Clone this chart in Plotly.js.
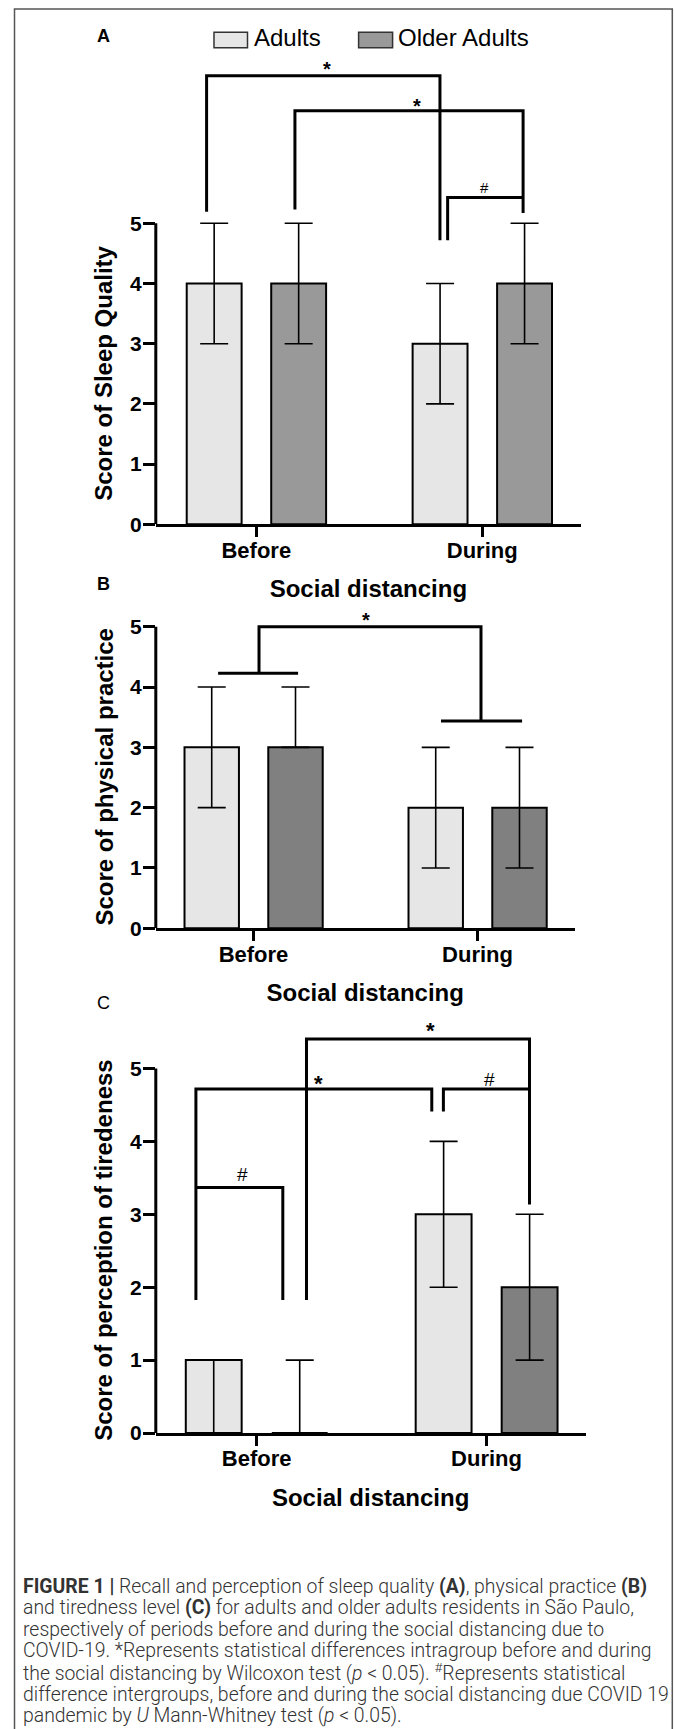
<!DOCTYPE html>
<html><head><meta charset="utf-8">
<script src="https://cdn.plot.ly/plotly-3.0.1.min.js"></script>
<style>html,body{margin:0;padding:0;background:#fff}</style>
</head><body><div id="chart" style="width:674px;height:1729px"></div>
<script>
// ---------------- data ----------------
var categories = ['Before', 'During'];
var seriesNames = ['Adults', 'Older Adults'];

// Panel A: Score of Sleep Quality
var sleepAdults = [4, 3];
var sleepAdultsErrPlus = [1, 1];
var sleepAdultsErrMinus = [1, 1];
var sleepOlder = [4, 4];
var sleepOlderErrPlus = [1, 1];
var sleepOlderErrMinus = [1, 1];

// Panel B: Score of physical practice
var physAdults = [3, 2];
var physAdultsErrPlus = [1, 1];
var physAdultsErrMinus = [1, 1];
var physOlder = [3, 2];
var physOlderErrPlus = [1, 1];
var physOlderErrMinus = [0, 1];

// Panel C: Score of perception of tiredeness
var tiredAdults = [1, 3];
var tiredAdultsErrPlus = [0, 1];
var tiredAdultsErrMinus = [1, 1];
var tiredOlder = [0, 2];
var tiredOlderErrPlus = [1, 1];
var tiredOlderErrMinus = [0, 1];

var yTickVals = [0, 1, 2, 3, 4, 5];
var yTitles = ['Score of Sleep Quality', 'Score of physical practice', 'Score of perception of tiredeness'];
var xTitle = 'Social distancing';
var panelLetters = ['A', 'B', 'C'];

var captionLines = [
  '<b>FIGURE 1 |</b> Recall and perception of sleep quality <b>(A)</b>, physical practice <b>(B)</b>',
  'and tiredness level <b>(C)</b> for adults and older adults residents in São Paulo,',
  'respectively of periods before and during the social distancing due to',
  'COVID-19. *Represents statistical differences intragroup before and during',
  'the social distancing by Wilcoxon test (<i>p</i> &lt; 0.05). <sup>#</sup>Represents statistical',
  'difference intergroups, before and during the social distancing due COVID 19',
  'pandemic by <i>U</i> Mann-Whitney test (<i>p</i> &lt; 0.05).'
];

// significance brackets (category index, score units)
var bracketsA = [
  [[-0.22, 5.19], [-0.22, 7.45], [0.813, 7.45], [0.813, 4.72]],
  [[0.171, 5.23], [0.171, 6.87], [1.181, 6.87], [1.181, 5.17]],
  [[0.847, 4.72], [0.847, 5.43], [1.181, 5.43]]
];
var marksA = [['*', 0.314, 7.63], ['*', 0.711, 7.02], ['#', 1.008, 5.59]];
var bracketsB = [
  [[0.0246, 4.228], [0.0246, 5.0], [1.0156, 5.0], [1.0156, 3.437]],
  [[-0.158, 4.228], [0.199, 4.228]],
  [[0.837, 3.437], [1.199, 3.437]]
];
var marksB = [['*', 0.502, 5.18]];
var bracketsC = [
  [[0.217, 1.823], [0.217, 5.405], [1.187, 5.405], [1.187, 3.134]],
  [[-0.264, 1.823], [-0.264, 4.719], [0.762, 4.719], [0.762, 4.409]],
  [[0.8125, 4.409], [0.8125, 4.719], [1.187, 4.719]],
  [[-0.264, 3.366], [0.114, 3.366], [0.114, 1.823]]
];
var marksC = [['*', 0.757, 5.59], ['*', 0.27, 4.863], ['#', 1.013, 4.85], ['#', -0.0635, 3.55]];

// ---------------- layout geometry ----------------
var FONT = 'Liberation Sans, Arial, Helvetica, sans-serif';
var CAPFONT = 'Roboto, Liberation Sans, Arial, sans-serif';
var W = 674, H = 1729;
function px(x) { return x / W; }
function py(y) { return 1 - y / H; }

var panels = [
  { adults: [sleepAdults, sleepAdultsErrPlus, sleepAdultsErrMinus], older: [sleepOlder, sleepOlderErrPlus, sleepOlderErrMinus],
    olderColor: '#999999', brackets: bracketsA, marks: marksA, starSize: 20, hashSize: 15,
    g: { xL: 155.8, xR: 581, cat0: 256.3, step: 225.9, zero: 524.3, unit: 60.2, top: 50 }, letterY: 36, letterBold: true },
  { adults: [physAdults, physAdultsErrPlus, physAdultsErrMinus], older: [physOlder, physOlderErrPlus, physOlderErrMinus],
    olderColor: '#808080', brackets: bracketsB, marks: marksB, starSize: 20, hashSize: 15,
    g: { xL: 155.8, xR: 574.7, cat0: 253.5, step: 224, zero: 928.3, unit: 60.32, top: 600 }, letterY: 584, letterBold: true },
  { adults: [tiredAdults, tiredAdultsErrPlus, tiredAdultsErrMinus], older: [tiredOlder, tiredOlderErrPlus, tiredOlderErrMinus],
    olderColor: '#808080', brackets: bracketsC, marks: marksC, starSize: 22, hashSize: 19,
    g: { xL: 155.8, xR: 585.5, cat0: 256.6, step: 229.9, zero: 1433, unit: 72.9, top: 1010 }, letterY: 1003, letterBold: false }
];

var idx = categories.map(function (c, i) { return i; });
var traces = [];
var layout = {
  width: W, height: H, margin: { l: 0, r: 0, t: 0, b: 0 },
  paper_bgcolor: '#ffffff', plot_bgcolor: 'rgba(0,0,0,0)',
  showlegend: false, barmode: 'overlay',
  font: { family: FONT, color: '#000' },
  shapes: [], annotations: []
};

panels.forEach(function (p, i) {
  var k = i === 0 ? '' : String(i + 1);
  var xa = 'x' + k, ya = 'y' + k, g = p.g;
  function errY(plus, minus) {
    return { type: 'data', symmetric: false, array: plus, arrayminus: minus, color: '#000', thickness: 1.6, width: 14, visible: true };
  }
  traces.push({
    type: 'bar', name: seriesNames[0], x: idx, y: p.adults[0], xaxis: xa, yaxis: ya,
    offset: -0.308, width: 0.243,
    marker: { color: '#e6e6e6', line: { color: '#000', width: 2 } },
    error_y: errY(p.adults[1], p.adults[2]), hoverinfo: 'skip'
  });
  traces.push({
    type: 'bar', name: seriesNames[1], x: idx, y: p.older[0], xaxis: xa, yaxis: ya,
    offset: 0.066, width: 0.243,
    marker: { color: p.olderColor, line: { color: '#000', width: 2 } },
    error_y: errY(p.older[1], p.older[2]), hoverinfo: 'skip'
  });
  layout['xaxis' + k] = {
    domain: [px(g.xL), px(g.xR)], anchor: ya, type: 'linear',
    range: [(g.xL - g.cat0) / g.step, (g.xR - g.cat0) / g.step],
    tickvals: idx, ticktext: categories,
    showline: true, linecolor: '#000', linewidth: 3,
    ticks: 'outside', ticklen: 10, tickwidth: 3, tickcolor: '#000',
    ticklabelstandoff: -6,
    tickfont: { family: FONT, size: 22, color: '#000', weight: 'bold' },
    showgrid: false, zeroline: false, fixedrange: true,
    title: { text: xTitle, font: { family: FONT, size: 24, color: '#000', weight: 'bold' }, standoff: 19 }
  };
  layout['yaxis' + k] = {
    domain: [py(g.zero), py(g.top)], anchor: xa, type: 'linear',
    range: [0, (g.zero - g.top) / g.unit], tickvals: yTickVals,
    showline: false, ticks: 'outside', ticklen: 12, tickwidth: 3, tickcolor: '#000',
    ticklabelstandoff: -3,
    tickfont: { family: FONT, size: 21, color: '#000', weight: 'bold' },
    showgrid: false, zeroline: false, fixedrange: true
  };
  // y axis line from 0 to 5
  layout.shapes.push({ type: 'line', xref: xa + ' domain', yref: ya, x0: 0, x1: 0,
    y0: 0, y1: yTickVals[yTickVals.length - 1], line: { color: '#000', width: 3 } });
  // y axis title
  layout.annotations.push({ text: yTitles[i], xref: 'paper', yref: ya, x: px(104), y: 2.5,
    textangle: -90, showarrow: false, xanchor: 'center', yanchor: 'middle',
    font: { family: FONT, size: 24, color: '#000', weight: 'bold' } });
  // panel letter
  layout.annotations.push({ text: panelLetters[i], xref: 'paper', yref: 'paper', x: px(103.5), y: py(p.letterY),
    showarrow: false, xanchor: 'center', yanchor: 'middle',
    font: { family: FONT, size: 18, color: '#000', weight: p.letterBold ? 'bold' : 'normal' } });
  // brackets
  p.brackets.forEach(function (pts) {
    var d = pts.map(function (pt, j) { return (j ? 'L' : 'M') + pt[0] + ',' + pt[1]; }).join(' ');
    layout.shapes.push({ type: 'path', xref: xa, yref: ya, path: d, line: { color: '#000', width: 3 } });
  });
  p.marks.forEach(function (m) {
    var star = m[0] === '*';
    var sz = star ? p.starSize : p.hashSize;
    layout.annotations.push({ text: m[0], xref: xa, yref: ya, x: m[1], y: m[2], showarrow: false,
      xanchor: 'center', yanchor: 'middle', yshift: star ? -0.225 * sz : 0,
      font: { family: FONT, size: sz, color: '#000', weight: star ? 'bold' : 'normal' } });
  });
});

// legend (drawn manually to match the original's wide boxes)
[[214, 247.5, '#e6e6e6', 252, seriesNames[0]], [358.6, 392.6, '#999999', 395.5, seriesNames[1]]].forEach(function (L) {
  layout.shapes.push({ type: 'rect', xref: 'paper', yref: 'paper', x0: px(L[0]), x1: px(L[1]), y0: py(32.3), y1: py(47.7),
    fillcolor: L[2], line: { color: '#333', width: 1.5 } });
  layout.annotations.push({ text: L[4], xref: 'paper', yref: 'paper', x: px(L[3]), y: py(37.5), showarrow: false,
    xanchor: 'left', yanchor: 'middle', font: { family: FONT, size: 24, color: '#000' } });
});

// outer frame (left, top, right)
layout.shapes.push({ type: 'path', xref: 'paper', yref: 'paper',
  path: 'M' + px(14.5) + ',' + py(1735) + ' L' + px(14.5) + ',' + py(9) + ' L' + px(672.3) + ',' + py(9) + ' L' + px(672.3) + ',' + py(1735),
  line: { color: '#555', width: 1.5 } });

// caption
captionLines.forEach(function (t, i) {
  layout.annotations.push({ text: t, xref: 'paper', yref: 'paper', x: px(21), y: py(1586 + i * 21.6),
    showarrow: false, xanchor: 'left', yanchor: 'middle', align: 'left',
    font: { family: CAPFONT, size: 19.4, color: '#333333', weight: 300 } });
});

Plotly.newPlot('chart', traces, layout, { staticPlot: true, displayModeBar: false });
</script>
</body></html>
